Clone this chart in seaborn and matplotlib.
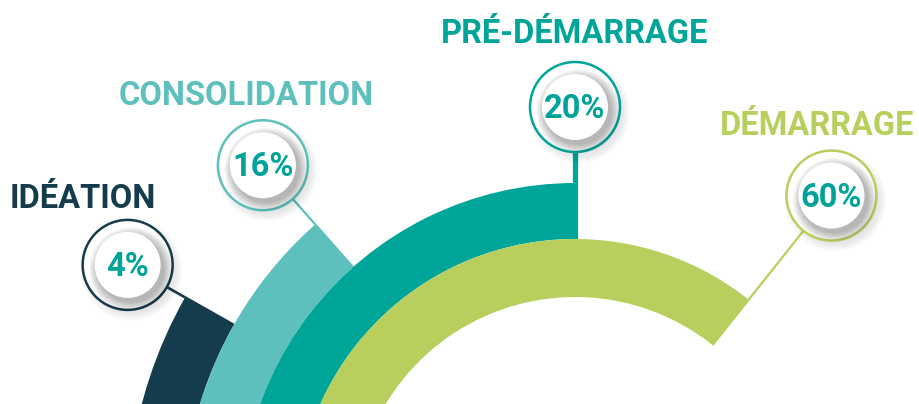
import numpy as np
import matplotlib
matplotlib.use("Agg")
import matplotlib.pyplot as plt
from matplotlib.patches import Wedge, Circle
import seaborn as sns

# ----- DATA -----
stages = ["IDÉATION", "CONSOLIDATION", "PRÉ-DÉMARRAGE", "DÉMARRAGE"]
shares = [4, 16, 20, 60]                     # percent of projects
arc_end_deg = [150.5, 131.5, 90.0, 51.5]     # where each arc stops (degrees, ccw from east)

# ----- LAYOUT / STYLE -----
colors = ["#143c4c", "#5ec0bc", "#00a59a", "#b8cf5e"]
pct_color = "#00a39a"
ring_outer = [448, 392, 335, 279]
ring_width = [56, 57, 56, 58]
arc_start_deg = 195
badge_dist = [514, 471, 411, 412]
badge_r = 45
disk_r = 33
title_dx = [-44.5, -16.5, 0, -14]
title_dy = [57, 60, 64, 61]
leader_lw = [1.9, 1.6, 3.8, 1.6]

sns.set_theme(style="white")
plt.rcParams['font.family'] = ['Roboto', 'DejaVu Sans']

fig = plt.figure(figsize=(9.19, 4.04), dpi=100)
ax = fig.add_axes([0, 0, 1, 1])
# arc centre sits at (0, 0), just below the bottom edge of the picture
ax.set_xlim(-575, 344)
ax.set_ylim(114, 518)
ax.set_aspect("equal")
ax.axis("off")

for i, stage in enumerate(stages):
    col = colors[i]
    # ----- ARC -----
    ax.add_patch(Wedge((0, 0), ring_outer[i], arc_end_deg[i], arc_start_deg,
                       width=ring_width[i], facecolor=col, edgecolor="none", zorder=2))

    ang = np.deg2rad(arc_end_deg[i])
    ux, uy = np.cos(ang), np.sin(ang)
    bx, by = badge_dist[i] * ux, badge_dist[i] * uy

    # ----- LEADER LINE -----
    r0 = ring_outer[i] - ring_width[i]
    r1 = badge_dist[i] - badge_r
    ax.plot([r0 * ux, r1 * ux], [r0 * uy, r1 * uy], color=col,
            lw=leader_lw[i], solid_capstyle="butt", zorder=1)

    # ----- BADGE -----
    for k in range(8):
        ax.add_patch(Circle((bx + 4, by - 5), badge_r + 6 - k, facecolor="#000000",
                            alpha=0.013, edgecolor="none", zorder=3))
    ax.add_patch(Circle((bx, by), badge_r, facecolor="white", edgecolor=col,
                        lw=1.8, zorder=4))
    for k in range(10):
        ax.add_patch(Circle((bx + 3.5, by - 4.5), disk_r + 9 - k, facecolor="#000000",
                            alpha=0.032, edgecolor="none", zorder=5))
    ax.add_patch(Circle((bx, by), disk_r, facecolor="white", edgecolor="none", zorder=6))
    ax.text(bx, by - 11, f"{shares[i]}%", ha="center", va="baseline",
            fontsize=23.5, fontweight="bold", color=pct_color, zorder=7)

    # ----- TITLE -----
    ax.text(bx + title_dx[i], by + title_dy[i], stage, ha="center", va="baseline",
            fontsize=23.5, fontweight="bold", color=col, zorder=7)

fig.savefig("out.png", dpi=100)
